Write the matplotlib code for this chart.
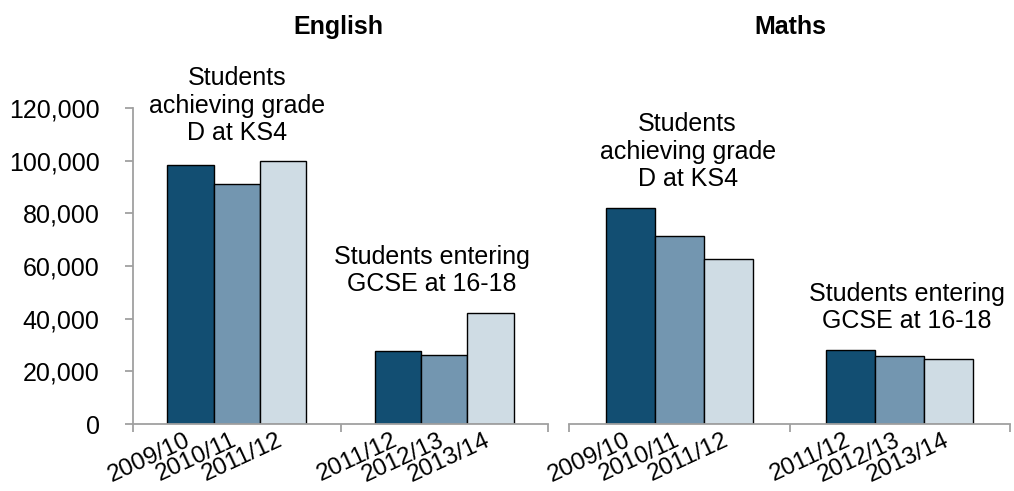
import numpy as np
import matplotlib
matplotlib.use("Agg")
import matplotlib.pyplot as plt
from matplotlib.ticker import FuncFormatter
from matplotlib.transforms import ScaledTranslation

plt.rcParams['font.family'] = ['Liberation Sans', 'DejaVu Sans']

# values per panel: group 0 = achieving grade D at KS4, group 1 = entering GCSE at 16-18
english_ks4 = [98300, 91000, 99700]
english_gcse = [27700, 26300, 42300]
maths_ks4 = [82200, 71500, 62700]
maths_gcse = [28100, 25800, 24800]

ks4_years = ['2009/10', '2010/11', '2011/12']
gcse_years = ['2011/12', '2012/13', '2013/14']
group_labels = ['Students\nachieving grade\nD at KS4', 'Students entering\nGCSE at 16-18']

colors = ['#124e72', '#7396b0', '#cfdce4']
axis_grey = '#a0a0a0'
fs = 18
bw = 0.2225

fig = plt.figure(figsize=(10.14, 4.91), dpi=100)
ax1 = fig.add_axes([133/1014, 1-424/491, 415/1014, 316/491])
ax2 = fig.add_axes([569/1014, 1-424/491, 441/1014, 316/491])


def draw_panel(ax, groups, label_shift, show_y):
    centers = []
    labels = []
    for g, vals in enumerate(groups):
        for i, v in enumerate(vals):
            x = g + 0.5 + (i - 1) * bw
            ax.bar(x, v, width=bw, color=colors[i], edgecolor='black', linewidth=1.0)
            centers.append(x)
        labels += ks4_years if g == 0 else gcse_years
        ax.annotate(group_labels[g], (g + 0.5, max(vals)), xytext=(label_shift[g], 12),
                    textcoords='offset points', ha='center', va='bottom',
                    fontsize=fs, linespacing=1.17, annotation_clip=False)
    ax.set_xlim(0, 2)
    ax.set_ylim(0, 120000)
    ax.set_xticks([0, 1, 2])
    ax.set_xticklabels([])
    ax.tick_params(axis='x', which='major', length=6, width=1.3, color=axis_grey, direction='out')
    ax.set_xticks(centers, minor=True)
    ax.set_xticklabels(labels, minor=True, rotation=25, ha='right', va='top',
                       rotation_mode='anchor', fontsize=17.5)
    ax.tick_params(axis='x', which='minor', length=0, pad=4)
    # pull the rotated labels left so they end at the bar centre
    shift = ScaledTranslation(-6/100, 0, fig.dpi_scale_trans)
    for t in ax.get_xticklabels(minor=True):
        t.set_transform(t.get_transform() + shift)
    for s in ['top', 'right']:
        ax.spines[s].set_visible(False)
    ax.spines['bottom'].set_color(axis_grey)
    ax.spines['bottom'].set_linewidth(1.3)
    if show_y:
        ax.spines['left'].set_color(axis_grey)
        ax.spines['left'].set_linewidth(1.3)
        ax.set_yticks(np.arange(0, 120001, 20000))
        ax.yaxis.set_major_formatter(FuncFormatter(lambda v, p: f'{int(v):,}'))
        ax.tick_params(axis='y', length=6, width=1.3, color=axis_grey, pad=18, labelsize=fs)
    else:
        ax.spines['left'].set_visible(False)
        ax.set_yticks([])


draw_panel(ax1, [english_ks4, english_gcse], [0, -9], True)
draw_panel(ax2, [maths_ks4, maths_gcse], [6, 5], False)

fig.text(338/1014, 1-27/491, 'English', ha='center', va='center', fontsize=fs, fontweight='bold')
fig.text(790/1014, 1-27/491, 'Maths', ha='center', va='center', fontsize=fs, fontweight='bold')

fig.savefig('out.png', dpi=100)
